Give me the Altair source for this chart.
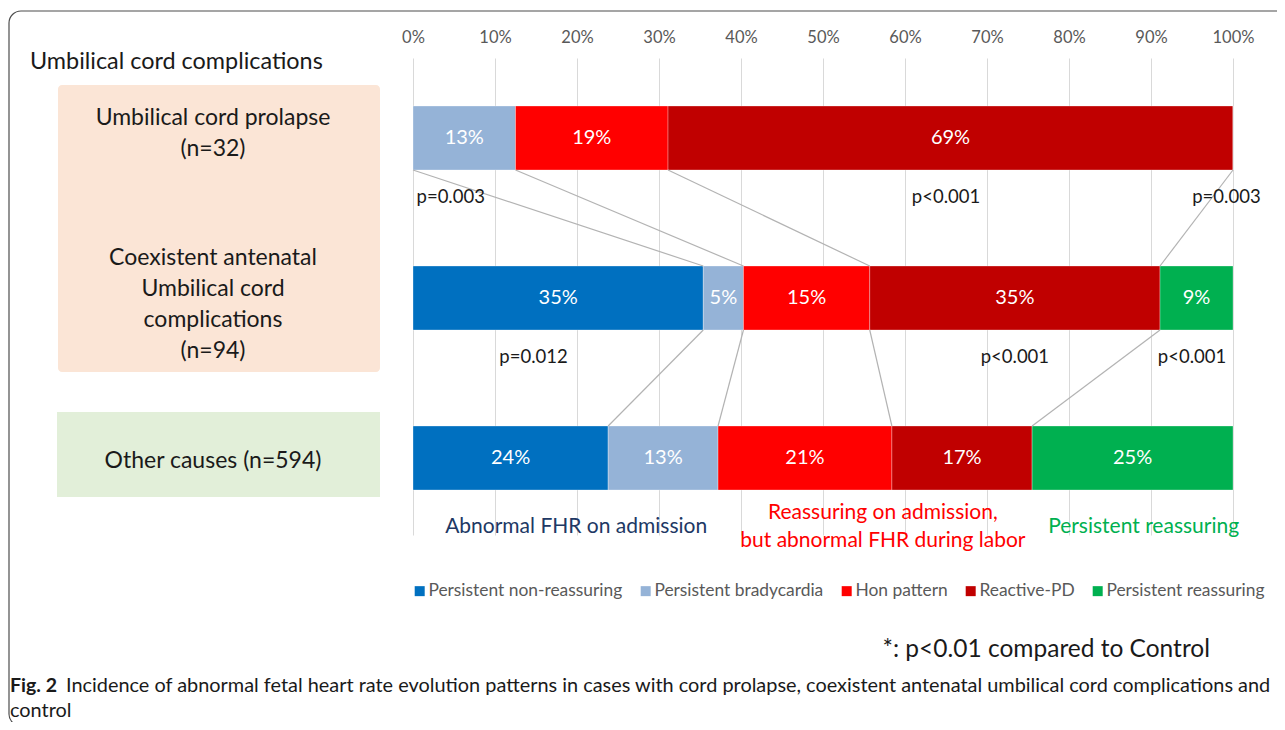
import math
import altair as alt
import pandas as pd

# ---------------- data ----------------
categories = ["Persistent non-reassuring", "Persistent bradycardia", "Hon pattern",
              "Reactive-PD", "Persistent reassuring"]
colors = ["#0070c0", "#95b3d7", "#ff0000", "#c00000", "#00b050"]
groups = ["Umbilical cord prolapse\n(n=32)",
          "Coexistent antenatal\nUmbilical cord\ncomplications\n(n=94)",
          "Other causes (n=594)"]
pct_prolapse = [0.0, 12.5, 18.6, 68.9, 0.0]
pct_coexistent = [35.4, 4.9, 15.4, 35.4, 8.9]
pct_other = [23.8, 13.4, 21.2, 17.1, 24.5]
p_values = ["p=0.003", "p<0.001", "p=0.003", "p=0.012", "p<0.001", "p<0.001"]
p_at_pct = [4.6, 65.0, 99.2, 14.7, 73.4, 95.0]
p_after_row = [1, 1, 1, 2, 2, 2]
pattern_groups = ["Abnormal FHR on admission",
                  "Reassuring on admission,\nbut abnormal FHR during labor",
                  "Persistent reassuring"]
pattern_colors = ["#203864", "#ff0000", "#00b050"]
pattern_center_pct = [19.9, 57.3, 89.1]
tick_values = list(range(0, 101, 10))
footnote = "*: p<0.01 compared to Control"
caption_bold = "Fig. 2"
caption_text = ["Incidence of abnormal fetal heart rate evolution patterns in cases with cord prolapse, coexistent antenatal umbilical cord complications and",
                "control"]

FONT = "Lato"
ROW_PX = 160.0          # pixels per row unit on the y scale
LABEL_LH = 31           # line height of row labels
PAT_LH = 28             # line height of pattern labels

# ---------------- tables ----------------
rows = []
for r, vals in enumerate([pct_prolapse, pct_coexistent, pct_other], start=1):
    s = 0.0
    for c, v in zip(categories, vals):
        rows.append({"row": r, "category": c, "start": s, "end": s + v,
                     "mid": s + v / 2, "pct": v,
                     "label": f"{math.floor(v + 0.5)}%" if v > 0 else "",
                     "top": r - 0.2, "bottom": r + 0.2})
        s += v
bars = pd.DataFrame(rows)

links = []
for r in (1, 2):
    up = bars[bars.row == r].reset_index(drop=True)
    lo = bars[bars.row == r + 1].reset_index(drop=True)
    for k in range(1, len(categories)):
        links.append({"x": up.start[k], "x2": lo.start[k],
                      "y": r + 0.2, "y2": r + 1 - 0.2})
links = pd.DataFrame(links)

pdf = pd.DataFrame({"text": p_values, "x": p_at_pct,
                    "y": [r + 0.37 for r in p_after_row]})

# first-line anchor so that a multi-line block is centred on its centre
label_centres = [0.97, 2.04, 3.02]
gdf = pd.DataFrame({"text": groups,
                    "y": [c - (g.count("\n")) * LABEL_LH / 2 / ROW_PX
                          for c, g in zip(label_centres, groups)]})
patdf = pd.DataFrame({"text": pattern_groups, "x": pattern_center_pct,
                      "color": pattern_colors,
                      "y": [3.43 - g.count("\n") * PAT_LH / 2 / ROW_PX
                            for g in pattern_groups]})

xscale = alt.Scale(domain=[0, 100], nice=False, zero=False)
yscale = alt.Scale(domain=[0.5, 0.5 + 477 / ROW_PX], reverse=True, nice=False, zero=False)
xaxis = alt.Axis(orient="top", values=tick_values, labelExpr="datum.value + '%'",
                 grid=True, gridColor="#d9d9d9", gridWidth=1, domain=False,
                 ticks=False, labelColor="#595959", labelFontSize=16.5,
                 labelFont=FONT, labelPadding=13, labelFlush=False,
                 labelOverlap=False, title=None)

one = pd.DataFrame({"a": [0]})

frame = alt.Chart(one).mark_rect(fill=None, stroke="#4d4d4d", strokeWidth=1.2,
                                 cornerRadius=12).encode(
    x=alt.value(-404), x2=alt.value(900), y=alt.value(-47), y2=alt.value(668))

box1 = alt.Chart(one).mark_rect(color="#fbe5d6", cornerRadius=4).encode(
    x=alt.value(-355), x2=alt.value(-33), y=alt.value(27), y2=alt.value(314))
box2 = alt.Chart(one).mark_rect(color="#e2efd9").encode(
    x=alt.value(-356), x2=alt.value(-33), y=alt.value(354), y2=alt.value(439))

title = alt.Chart(one).mark_text(text="Umbilical cord complications", align="left",
                                 baseline="middle", font=FONT, fontSize=23.4,
                                 color="#1a1a1a").encode(
    x=alt.value(-383), y=alt.value(4))

glabels = alt.Chart(gdf).mark_text(align="center", baseline="middle", font=FONT,
                                   fontSize=23, lineBreak="\n", lineHeight=LABEL_LH,
                                   color="#1a1a1a").encode(
    x=alt.value(-200), y=alt.Y("y:Q", scale=yscale, axis=None), text="text:N")

bar_layer = alt.Chart(bars).mark_bar(stroke="#ffffff", strokeWidth=0.6, strokeOpacity=0.5).encode(
    x=alt.X("start:Q", scale=xscale, axis=xaxis),
    x2="end:Q",
    y=alt.Y("top:Q", scale=yscale, axis=None),
    y2="bottom:Q",
    color=alt.Color("category:N",
                    scale=alt.Scale(domain=categories, range=colors),
                    legend=alt.Legend(orient="none", direction="horizontal",
                                      legendX=-2, legendY=524, title=None,
                                      symbolType="square", symbolSize=100,
                                      symbolStrokeWidth=0, labelFontSize=17.4,
                                      labelFont=FONT, labelColor="#595959",
                                      labelLimit=0, columnPadding=14, labelOffset=0)),
)

bar_text = alt.Chart(bars).mark_text(color="white", font=FONT, fontSize=20,
                                     baseline="middle").encode(
    x=alt.X("mid:Q", scale=xscale, axis=xaxis),
    y=alt.Y("row:Q", scale=yscale, axis=None),
    text="label:N")

link_layer = alt.Chart(links).mark_rule(color="#b3b3b3", strokeWidth=1.2).encode(
    x=alt.X("x:Q", scale=xscale, axis=xaxis), x2="x2:Q",
    y=alt.Y("y:Q", scale=yscale, axis=None), y2="y2:Q")

p_layer = alt.Chart(pdf).mark_text(font=FONT, fontSize=18.5, color="#1a1a1a",
                                   baseline="middle").encode(
    x=alt.X("x:Q", scale=xscale, axis=xaxis),
    y=alt.Y("y:Q", scale=yscale, axis=None), text="text:N")

pat_layer = alt.Chart(patdf).mark_text(font=FONT, fontSize=21, baseline="middle",
                                       lineBreak="\n", lineHeight=PAT_LH).encode(
    x=alt.X("x:Q", scale=xscale, axis=xaxis),
    y=alt.Y("y:Q", scale=yscale, axis=None), text="text:N",
    color=alt.Color("color:N", scale=None, legend=None))

foot = alt.Chart(one).mark_text(text=footnote, align="right", baseline="middle",
                                font=FONT, fontSize=24.5, color="#1a1a1a").encode(
    x=alt.value(797), y=alt.value(592))

cap_bold = alt.Chart(one).mark_text(text=caption_bold, align="left", baseline="middle",
                                    font=FONT, fontSize=19.5, fontWeight="bold",
                                    color="#1a1a1a").encode(
    x=alt.value(-403), y=alt.value(628))
cap1 = alt.Chart(one).mark_text(text=caption_text[0], align="left", baseline="middle",
                                font=FONT, fontSize=19.9, color="#1a1a1a").encode(
    x=alt.value(-347), y=alt.value(628))
cap2 = alt.Chart(one).mark_text(text=caption_text[1], align="left", baseline="middle",
                                font=FONT, fontSize=19.9, color="#1a1a1a").encode(
    x=alt.value(-403), y=alt.value(653))

chart = alt.layer(frame, box1, box2, title, glabels, bar_layer, link_layer, bar_text,
                  p_layer, pat_layer, foot, cap_bold, cap1, cap2).resolve_scale(
    color="independent").properties(
    width=820, height=477,
    padding={"left": 405, "top": 50, "right": 44, "bottom": 187},
    autosize="none",
    background="white",
).configure_view(stroke=None)

chart.save("out.html", embed_options={"renderer": "svg", "actions": False})
